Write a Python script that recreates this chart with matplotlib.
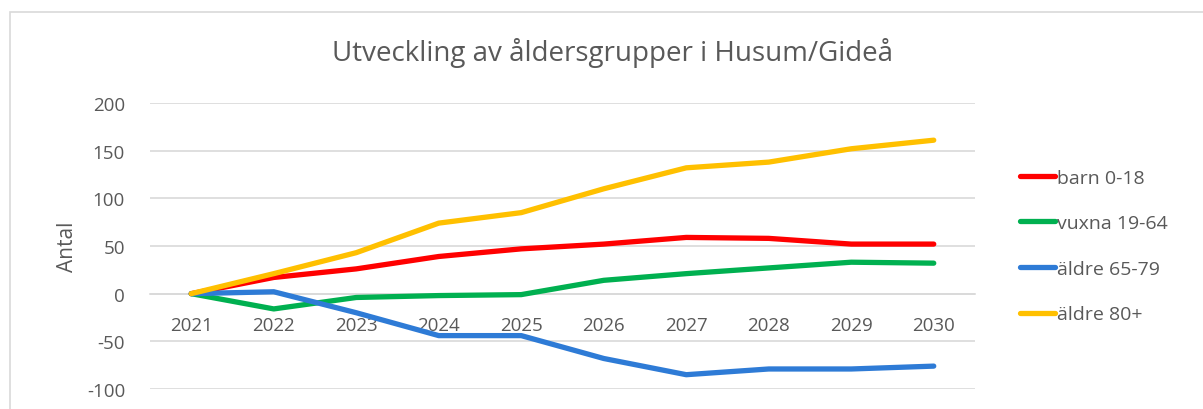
import matplotlib.pyplot as plt
from matplotlib.patches import Rectangle

# ---------- data ----------
years = ['2021', '2022', '2023', '2024', '2025', '2026', '2027', '2028', '2029', '2030']
barn = [0, 17, 26, 39, 47, 52, 59, 58, 52, 52]
vuxna = [0, -16, -4, -2, -1, 14, 21, 27, 33, 32]
aldre_65 = [0, 2, -20, -44, -44, -68, -85, -79, -79, -76]
aldre_80 = [0, 21, 43, 74, 85, 110, 132, 138, 152, 161]

series = [
    ('barn 0-18', barn, '#FF0000'),
    ('vuxna 19-64', vuxna, '#00B050'),
    ('äldre 65-79', aldre_65, '#2E7BD6'),
    ('äldre 80+', aldre_80, '#FFC000'),
]

plt.rcParams['font.family'] = ['Open Sans', 'DejaVu Sans']
plt.rcParams['axes.unicode_minus'] = False
txt = '#595959'

W, H = 1203, 410
fig = plt.figure(figsize=(W / 100, H / 100), dpi=100)

# chart border (light gray frame, cut off right/bottom)
fig.patches.append(Rectangle((10 / W, -0.1), 1.2, 1.1 - 13 / H,
                             transform=fig.transFigure, fill=False,
                             edgecolor='#D9D9D9', linewidth=1.2))

ax = fig.add_axes([150 / W, 1 - 390 / H, (975 - 150) / W, (390 - 104) / H])

x = list(range(len(years)))
for name, vals, col in series:
    ax.plot(x, vals, color=col, linewidth=3.8, solid_capstyle='round',
            solid_joinstyle='round', label=name, zorder=3)

ax.set_xlim(-0.5, len(years) - 0.5)
ax.set_ylim(-100, 200)
ax.set_yticks(range(-100, 201, 50))
ax.set_xticks(x)
ax.set_xticklabels(years)

ax.grid(axis='y', color='#D9D9D9', linewidth=1.2, zorder=0)
for s in ['top', 'right', 'left']:
    ax.spines[s].set_visible(False)
ax.spines['bottom'].set_position(('data', 0))
ax.spines['bottom'].set_color('#D9D9D9')
ax.spines['bottom'].set_linewidth(1.2)
ax.tick_params(axis='both', length=0, labelsize=13.5, colors=txt)
ax.tick_params(axis='x', pad=16)
ax.tick_params(axis='y', pad=18)

ax.set_ylabel('Antal', fontsize=15, color=txt, labelpad=6)

fig.text(612 / W, 1 - 53 / H, 'Utveckling av åldersgrupper i Husum/Gideå',
         ha='center', va='center', fontsize=20, color=txt)

leg = ax.legend(loc='center left', bbox_to_anchor=(1.033, 0.5), frameon=False,
                fontsize=14, labelcolor=txt, handlelength=1.8, handletextpad=0.1,
                labelspacing=1.42)

fig.savefig('out.png', dpi=100, facecolor='white')
